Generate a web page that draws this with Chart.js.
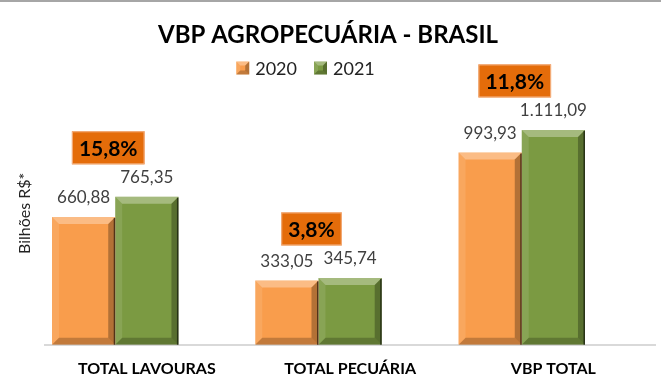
<!DOCTYPE html>
<html lang="pt-BR">
<head>
<meta charset="UTF-8">
<title>VBP Agropecuária - Brasil</title>
<style>
  html, body { margin: 0; padding: 0; background: #fff; }
  #wrap { width: 661px; height: 391px; }
</style>
<script src="https://cdn.jsdelivr.net/npm/chart.js"></script>
</head>
<body>
<div id="wrap"><canvas id="chart" width="661" height="391"></canvas></div>
<script>
  const categories = ['TOTAL LAVOURAS', 'TOTAL PECUÁRIA', 'VBP TOTAL'];
  const years = ['2020', '2021'];
  const values2020 = [660.88, 333.05, 993.93];
  const values2021 = [765.35, 345.74, 1111.09];
  const growth = [15.8, 3.8, 11.8];
  const colors = ['#f99d4c', '#7b9a42'];

  const FONT = 'Lato, "Open Sans", sans-serif';

  // 1234.5 -> "1.234,50"
  function fmt(v) {
    const [i, d] = v.toFixed(2).split('.');
    return i.replace(/\B(?=(\d{3})+(?!\d))/g, '.') + ',' + d;
  }

  function poly(ctx, pts, fill) {
    ctx.beginPath();
    ctx.moveTo(pts[0][0], pts[0][1]);
    for (let k = 1; k < pts.length; k++) ctx.lineTo(pts[k][0], pts[k][1]);
    ctx.closePath();
    ctx.fillStyle = fill;
    ctx.fill();
  }

  // excel-like bevel box
  function bevelBox(ctx, l, t, r, b, s) {
    poly(ctx, [[l, t], [r, t], [r - s, t + s], [l + s, t + s]], 'rgba(255,255,255,0.32)');
    poly(ctx, [[l, t], [l + s, t + s], [l + s, b - s], [l, b]], 'rgba(255,255,255,0.10)');
    poly(ctx, [[r, t], [r, b], [r - s, b - s], [r - s, t + s]], 'rgba(0,0,0,0.28)');
    poly(ctx, [[l, b], [r, b], [r - s, b - s], [l + s, b - s]], 'rgba(0,0,0,0.22)');
  }

  const bevel = {
    id: 'bevel',
    afterDatasetsDraw(chart) {
      const ctx = chart.ctx;
      ctx.save();
      [0, 1].forEach(di => {
        chart.getDatasetMeta(di).data.forEach(bar => {
          const p = bar.getProps(['x', 'y', 'base', 'width'], true);
          const l = p.x - p.width / 2, r = p.x + p.width / 2;
          bevelBox(ctx, l, p.y, r, p.base, 7);
          ctx.fillStyle = 'rgba(0,0,0,0.55)';
          ctx.fillRect(r - 1.5, p.y + 1, 1.5, p.base - p.y - 1);
        });
      });
      ctx.restore();
    }
  };

  const labels = {
    id: 'labels',
    afterDraw(chart) {
      const ctx = chart.ctx;
      ctx.save();
      // frame line on top
      ctx.fillStyle = '#a6a6a6';
      ctx.fillRect(0, 0, chart.width, 2);

      // legend (offset left like the original)
      ctx.font = '18px ' + FONT;
      ctx.textBaseline = 'middle';
      ctx.textAlign = 'left';
      const box = 13, gap = 6, itemGap = 17;
      const widths = years.map(y => box + gap + ctx.measureText(y).width);
      const total = widths.reduce((s, w) => s + w, 0) + itemGap * (years.length - 1);
      let lx = chart.width / 2 - 25 - total / 2;
      const ly = 68;
      years.forEach((y, i) => {
        ctx.fillStyle = colors[i];
        ctx.fillRect(lx, ly - box / 2, box, box);
        bevelBox(ctx, lx, ly - box / 2, lx + box, ly + box / 2, 4);
        ctx.fillStyle = '#222';
        ctx.fillText(y, lx + box + gap, ly + 1);
        lx += widths[i] + itemGap;
      });

      // value labels
      ctx.textAlign = 'center';
      ctx.font = '17px ' + FONT;
      ctx.fillStyle = '#404040';
      [0, 1].forEach(di => {
        const ds = chart.data.datasets[di];
        chart.getDatasetMeta(di).data.forEach((bar, i) => {
          ctx.fillText(fmt(ds.data[i]), bar.x, bar.y - 19);
        });
      });

      // growth boxes
      const a = chart.getDatasetMeta(0).data, b = chart.getDatasetMeta(1).data;
      ctx.font = 'bold 21px ' + FONT;
      growth.forEach((g, i) => {
        const txt = g.toFixed(1).replace('.', ',') + '%';
        const cx = (a[i].x + b[i].x) / 2 - 7;
        const cy = Math.min(a[i].y, b[i].y) - 49;
        const w = ctx.measureText(txt).width + 14, h = 33;
        ctx.fillStyle = '#e46c0a';
        ctx.fillRect(cx - w / 2, cy - h / 2, w, h);
        ctx.strokeStyle = '#f4b183';
        ctx.lineWidth = 1;
        ctx.strokeRect(cx - w / 2 + 0.5, cy - h / 2 + 0.5, w - 1, h - 1);
        ctx.fillStyle = '#000';
        ctx.fillText(txt, cx, cy + 1);
      });
      ctx.restore();
    }
  };

  new Chart(document.getElementById('chart'), {
    type: 'bar',
    data: {
      labels: categories,
      datasets: [
        { label: years[0], data: values2020, backgroundColor: colors[0] },
        { label: years[1], data: values2021, backgroundColor: colors[1] },
        { label: 'spacer', data: [null, null, null], backgroundColor: 'rgba(0,0,0,0)' }
      ]
    },
    options: {
      responsive: false,
      animation: false,
      categoryPercentage: 0.933,
      barPercentage: 1,
      layout: { padding: { left: 1, right: 6, top: 0, bottom: -1 } },
      plugins: {
        title: {
          display: true,
          text: 'VBP AGROPECUÁRIA - BRASIL',
          color: '#000',
          font: { family: FONT, size: 24, weight: 'bold' },
          padding: { top: 21, bottom: 32 }
        },
        legend: { display: false },
        tooltip: { enabled: false }
      },
      scales: {
        x: {
          grid: { display: false, drawTicks: false },
          border: { display: true, color: '#d9d9d9', width: 2 },
          ticks: { color: '#000', padding: 14, font: { family: FONT, size: 16, weight: 'bold' } }
        },
        y: {
          min: 0,
          max: 1360,
          grid: { display: false, drawTicks: false },
          border: { display: false },
          ticks: { display: false },
          title: {
            display: true,
            text: 'Bilhões R$*',
            color: '#222',
            font: { family: FONT, size: 16 },
            padding: { top: 14, bottom: 11 }
          }
        }
      }
    },
    plugins: [bevel, labels]
  });
</script>
</body>
</html>
